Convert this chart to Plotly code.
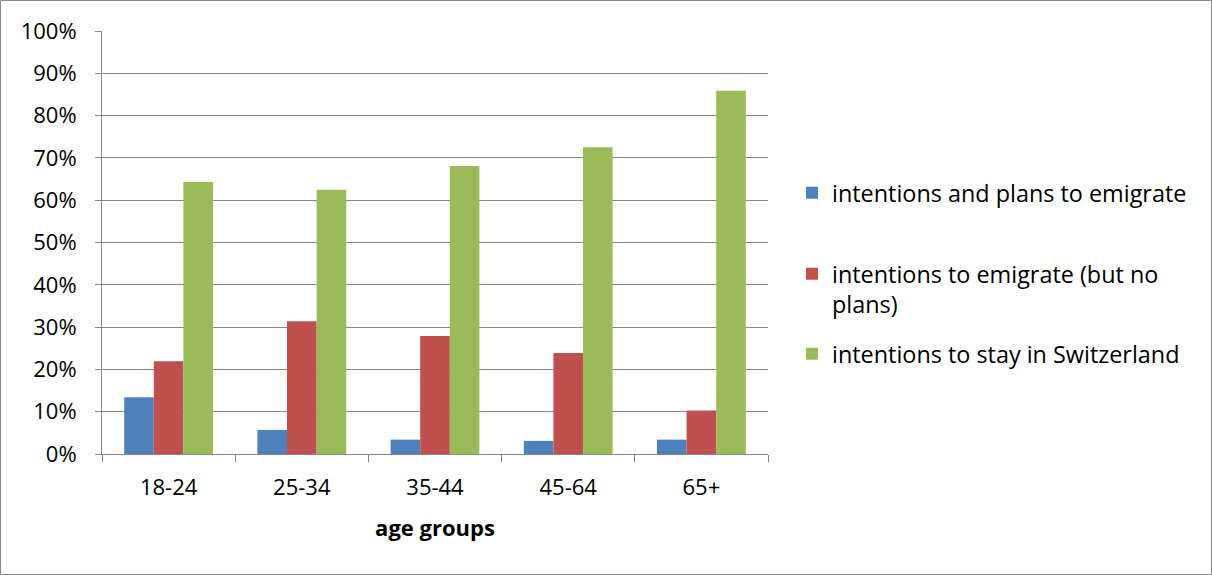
import plotly.graph_objects as go

# Survey shares by age group
age_groups = ["18-24", "25-34", "35-44", "45-64", "65+"]
plans_to_emigrate = [13.4, 5.7, 3.4, 3.1, 3.4]
intend_no_plans = [21.9, 31.4, 27.9, 23.9, 10.3]
intend_to_stay = [64.3, 62.5, 68.1, 72.5, 85.9]

series_names = [
    "intentions and plans to emigrate",
    "intentions to emigrate (but no<br>plans)",
    "intentions to stay in Switzerland",
]
series_colors = ["#4F81BD", "#C0504D", "#9BBB59"]
y_ticks = [0, 10, 20, 30, 40, 50, 60, 70, 80, 90, 100]
y_tick_labels = [f"{v}%" for v in y_ticks]

W, H = 1212, 575
ML, MR, MT, MB = 102, 444, 31, 121
PW, PH = W - ML - MR, H - MT - MB
FONT = "Open Sans"
GRID = "#868686"

fig = go.Figure()
for i, (name, vals, col) in enumerate(zip(series_names,
                                          [plans_to_emigrate, intend_no_plans, intend_to_stay],
                                          series_colors)):
    fig.add_trace(go.Bar(
        x=age_groups, y=vals, name=name,
        marker=dict(color=col, line=dict(width=0)),
        legend="legend" if i == 0 else f"legend{i + 1}",
        showlegend=True,
        hoverinfo="skip",
    ))


def px_x(px):
    return (px - ML) / PW


def px_y(py):
    return (H - MB - py) / PH


legend_common = dict(
    xref="container", yref="container",
    font=dict(family=FONT, size=23.4, color="#000000"),
    bgcolor="rgba(0,0,0,0)", borderwidth=0,
    xanchor="left", valign="top", itemwidth=30,
)
LEG_X = 792 / W

fig.update_layout(
    width=W, height=H,
    margin=dict(l=ML, r=MR, t=MT, b=MB, pad=0),
    paper_bgcolor="#FFFFFF", plot_bgcolor="#FFFFFF",
    font=dict(family=FONT, size=22, color="#000000"),
    showlegend=True,
    barmode="group", bargap=1.5 / 4.5, bargroupgap=0,
    legend=dict(**legend_common, x=LEG_X, y=1 - 193 / H, yanchor="middle"),
    legend2=dict(**legend_common, x=LEG_X, y=1 - 252 / H, yanchor="top"),
    legend3=dict(**legend_common, x=LEG_X, y=1 - 354 / H, yanchor="middle"),
    xaxis=dict(
        type="category", tickson="boundaries",
        ticks="outside", ticklen=7, tickcolor=GRID, tickwidth=1,
        showline=True, linecolor=GRID, linewidth=1,
        showgrid=False, zeroline=False,
        ticklabelstandoff=14,
        tickfont=dict(family=FONT, size=22),
        title=dict(text="<b>age groups</b>", font=dict(family=FONT, size=22), standoff=20),
    ),
    yaxis=dict(
        range=[0, 100], tickvals=y_ticks, ticktext=y_tick_labels,
        ticks="outside", ticklen=6, tickcolor=GRID, tickwidth=1,
        showline=True, linecolor=GRID, linewidth=1,
        showgrid=True, gridcolor=GRID, gridwidth=1,
        zeroline=False,
        ticklabelstandoff=14,
        tickfont=dict(family=FONT, size=22),
    ),
    shapes=[dict(
        type="rect", xref="paper", yref="paper",
        x0=px_x(0.5), x1=px_x(W - 0.5), y0=px_y(H - 0.5), y1=px_y(0.5),
        line=dict(color=GRID, width=1), fillcolor="rgba(0,0,0,0)", layer="below",
    )],
)

fig.write_html("out.html")
